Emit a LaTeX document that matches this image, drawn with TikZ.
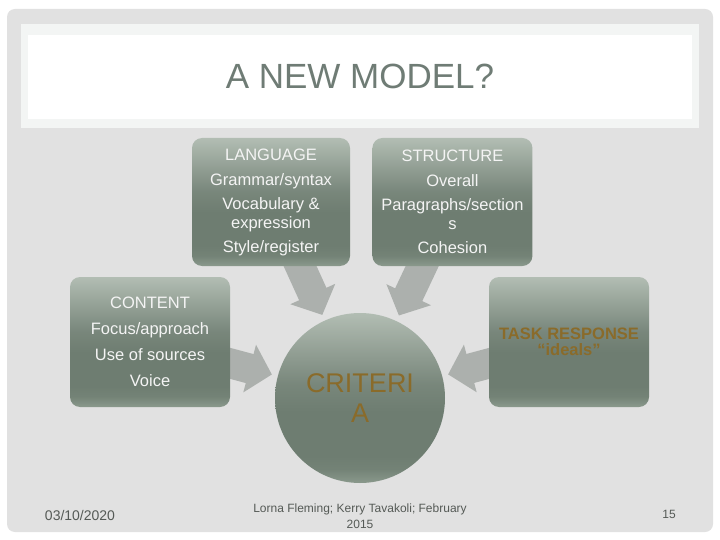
\documentclass[tikz,border=0pt]{standalone}
\usepackage{fontspec}
\setmainfont{Liberation Sans}
\usetikzlibrary{positioning,arrows.meta,backgrounds}

\definecolor{slidegray}{HTML}{E1E1E1}
\definecolor{panelrim}{HTML}{F3F5F4}
\definecolor{titlegray}{HTML}{6F7C75}
\definecolor{boxtop}{HTML}{B2BDB3}
\definecolor{boxmid}{HTML}{6E7D71}
\definecolor{boxbot}{HTML}{8A998C}
\definecolor{boxtext}{HTML}{F4F4F4}
\definecolor{ochre}{HTML}{8A6B2A}
\definecolor{arrowgray}{HTML}{ACB0AD}
\definecolor{footgray}{HTML}{555A56}

% slate fill: light top, dark body, light rim at the bottom
\pgfdeclareverticalshading{slate}{100bp}{color(0bp)=(boxbot); color(25bp)=(boxbot);
  color(29bp)=(boxmid!80!boxbot); color(33bp)=(boxmid); color(46bp)=(boxmid);
  color(54bp)=(boxmid!85!boxtop); color(64bp)=(boxmid!45!boxtop);
  color(75bp)=(boxtop); color(100bp)=(boxtop)}

\tikzset{
  box/.style={rounded corners=10pt, minimum width=160pt, minimum height=128pt,
    inner sep=0pt, shading=slate, text=boxtext, align=center,
    font=\fontsize{16.5}{19}\selectfont},
  sidebox/.style={box, minimum height=130pt},
  critcircle/.style={circle, minimum size=170pt, inner sep=0pt, shading=slate,
    text=ochre, align=center, font=\fontsize{27}{30}\selectfont},
  fatarrow/.style={line width=30pt, draw=arrowgray,
    -{Triangle[width=48pt,length=23pt]}, shorten <=-12pt, shorten >=6pt},
  foot/.style={text=footgray, align=center, font=\fontsize{12}{16}\selectfont},
}

\begin{document}
\begin{tikzpicture}[x=1pt, y=-1pt]
  \useasboundingbox (0,0) rectangle (720,540);
  \begin{scope}[on background layer]
    \fill[white] (0,0) rectangle (720,540);
    \fill[slidegray, rounded corners=8pt] (7,9) rectangle (713,532);
  \end{scope}

  % title panel
  \fill[panelrim] (21,24) rectangle (699,128);
  \fill[white] (28,35) rectangle (692,119);
  \node[text=titlegray, font=\fontsize{35}{40}\selectfont] (title) at (360,76) {A NEW MODEL?};

  % the four boxes
  \node[box, minimum width=158pt] (lang) at (271,202) {LANGUAGE\\[6pt]
    Grammar/syntax\\[5pt]
    Vocabulary \&\\ expression\\[5pt]
    Style/register};
  \node[box, right=22pt of lang] (struct) {STRUCTURE\\[6pt]
    Overall\\[5pt]
    Paragraphs/section\\ s\\[5pt]
    Cohesion};
  \node[sidebox] (content) at (150,342) {CONTENT\\[7pt]
    Focus/approach\\[7pt]
    Use of sources\\[7pt]
    Voice};
  \node[sidebox, text=ochre, font=\bfseries\fontsize{16.5}{16}\selectfont] (task) at (569,342)
    {TASK RESPONSE\\ ``ideals''};

  % centre
  \node[critcircle] (crit) at (360,398) {CRITERI\\ A};

  % arrows into the centre
  \begin{scope}[on background layer]
    \draw[fatarrow] (lang) -- (crit);
    \draw[fatarrow] (struct) -- (crit);
    \draw[fatarrow] (content) -- (crit);
    \draw[fatarrow] (task) -- (crit);
  \end{scope}

  % footer
  \node[foot, font=\fontsize{14}{16}\selectfont] (date) at (80,515) {03/10/2020};
  \node[foot] (authors) at (360,516) {Lorna Fleming; Kerry Tavakoli; February\\ 2015};
  \node[foot] (page) at (669,514) {15};
\end{tikzpicture}
\end{document}
